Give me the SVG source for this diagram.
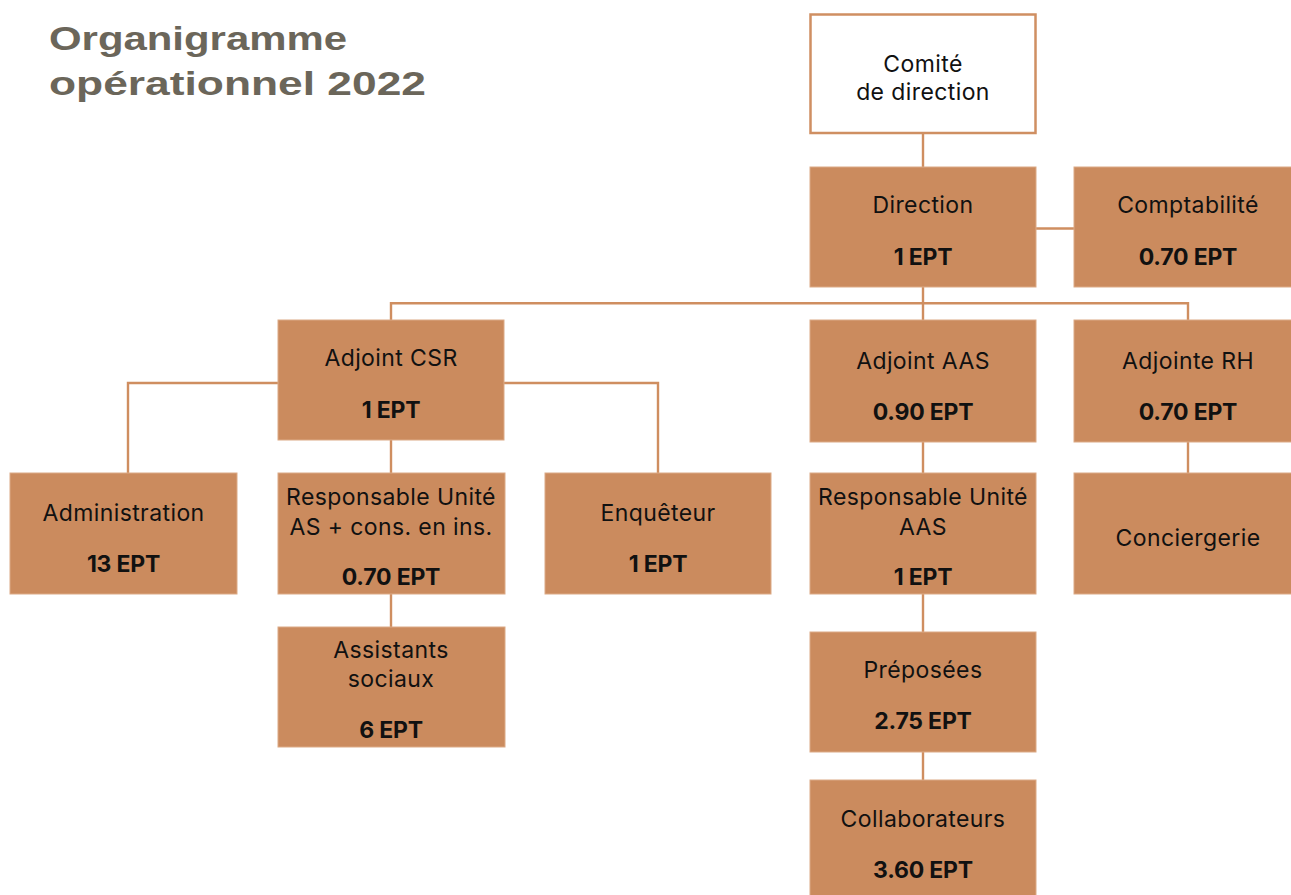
<svg xmlns="http://www.w3.org/2000/svg" width="1291" height="895" viewBox="0 0 1291 895">
<style>
.box{fill:#cb8b5e;stroke:#dcaa86;stroke-width:1}
.wbox{fill:#ffffff;stroke:#cf8f62;stroke-width:2.5}
.lbl{font-family:Inter,"Noto Sans",sans-serif;font-size:23px;fill:#111;text-anchor:middle;letter-spacing:0.4px}
.ept{font-family:Inter,"Noto Sans",sans-serif;font-size:23px;font-weight:700;fill:#111;text-anchor:middle;letter-spacing:-0.2px}
.title{font-family:"Liberation Sans",Arial,sans-serif;font-size:34px;font-weight:700;fill:#6b665a}
.conn{fill:none;stroke:#cf8e60;stroke-width:2.4}
</style>
<rect width="1291" height="895" fill="#ffffff"/>
<g id="title">
<text class="title" x="49" y="50" textLength="298" lengthAdjust="spacingAndGlyphs">Organigramme</text>
<text class="title" x="49" y="95" textLength="377" lengthAdjust="spacingAndGlyphs">opérationnel 2022</text>
</g>
<g id="connectors">
<path class="conn" d="M923 133V167"/>
<path class="conn" d="M1036 228.5H1074"/>
<path class="conn" d="M923 287V320"/>
<path class="conn" d="M391 320V303.3H1188V320"/>
<path class="conn" d="M278 383H128V473"/>
<path class="conn" d="M503 383H658V473"/>
<path class="conn" d="M391 440V473"/>
<path class="conn" d="M391 594V627"/>
<path class="conn" d="M923 442V473"/>
<path class="conn" d="M923 594V632"/>
<path class="conn" d="M923 752V780"/>
<path class="conn" d="M1188 442V473"/>
</g>
<g id="comite">
<rect class="wbox" x="810.5" y="14.5" width="225" height="118.5"/>
<text class="lbl" x="923" y="72">Comité</text>
<text class="lbl" x="923" y="100">de direction</text>
</g>
<g id="direction">
<rect class="box" x="810" y="167" width="226" height="120"/>
<text class="lbl" x="923" y="213">Direction</text>
<text class="ept" x="923" y="265">1 EPT</text>
</g>
<g id="comptabilite">
<rect class="box" x="1074" y="167" width="220" height="120"/>
<text class="lbl" x="1188" y="213">Comptabilité</text>
<text class="ept" x="1188" y="265">0.70 EPT</text>
</g>
<g id="adjoint-csr">
<rect class="box" x="278" y="320" width="226" height="120"/>
<text class="lbl" x="391" y="366">Adjoint CSR</text>
<text class="ept" x="391" y="418">1 EPT</text>
</g>
<g id="adjoint-aas">
<rect class="box" x="810" y="320" width="226" height="122"/>
<text class="lbl" x="923" y="369">Adjoint AAS</text>
<text class="ept" x="923" y="420">0.90 EPT</text>
</g>
<g id="adjointe-rh">
<rect class="box" x="1074" y="320" width="220" height="122"/>
<text class="lbl" x="1188" y="369">Adjointe RH</text>
<text class="ept" x="1188" y="420">0.70 EPT</text>
</g>
<g id="administration">
<rect class="box" x="10" y="473" width="227" height="121"/>
<text class="lbl" x="123.5" y="521">Administration</text>
<text class="ept" x="123.5" y="572">13 EPT</text>
</g>
<g id="resp-as">
<rect class="box" x="278" y="473" width="227" height="121"/>
<text class="lbl" x="391" y="505">Responsable Unité</text>
<text class="lbl" x="391" y="535">AS + cons. en ins.</text>
<text class="ept" x="391" y="585">0.70 EPT</text>
</g>
<g id="enqueteur">
<rect class="box" x="545" y="473" width="226" height="121"/>
<text class="lbl" x="658" y="521">Enquêteur</text>
<text class="ept" x="658" y="572">1 EPT</text>
</g>
<g id="assistants">
<rect class="box" x="278" y="627" width="227" height="120"/>
<text class="lbl" x="391" y="658">Assistants</text>
<text class="lbl" x="391" y="687">sociaux</text>
<text class="ept" x="391" y="738">6 EPT</text>
</g>
<g id="resp-aas">
<rect class="box" x="810" y="473" width="226" height="121"/>
<text class="lbl" x="923" y="505">Responsable Unité</text>
<text class="lbl" x="923" y="535">AAS</text>
<text class="ept" x="923" y="585">1 EPT</text>
</g>
<g id="conciergerie">
<rect class="box" x="1074" y="473" width="220" height="121"/>
<text class="lbl" x="1188" y="546">Conciergerie</text>
</g>
<g id="preposees">
<rect class="box" x="810" y="632" width="226" height="120"/>
<text class="lbl" x="923" y="678">Préposées</text>
<text class="ept" x="923" y="729">2.75 EPT</text>
</g>
<g id="collaborateurs">
<rect class="box" x="810" y="780" width="226" height="120"/>
<text class="lbl" x="923" y="827">Collaborateurs</text>
<text class="ept" x="923" y="878">3.60 EPT</text>
</g>
</svg>
